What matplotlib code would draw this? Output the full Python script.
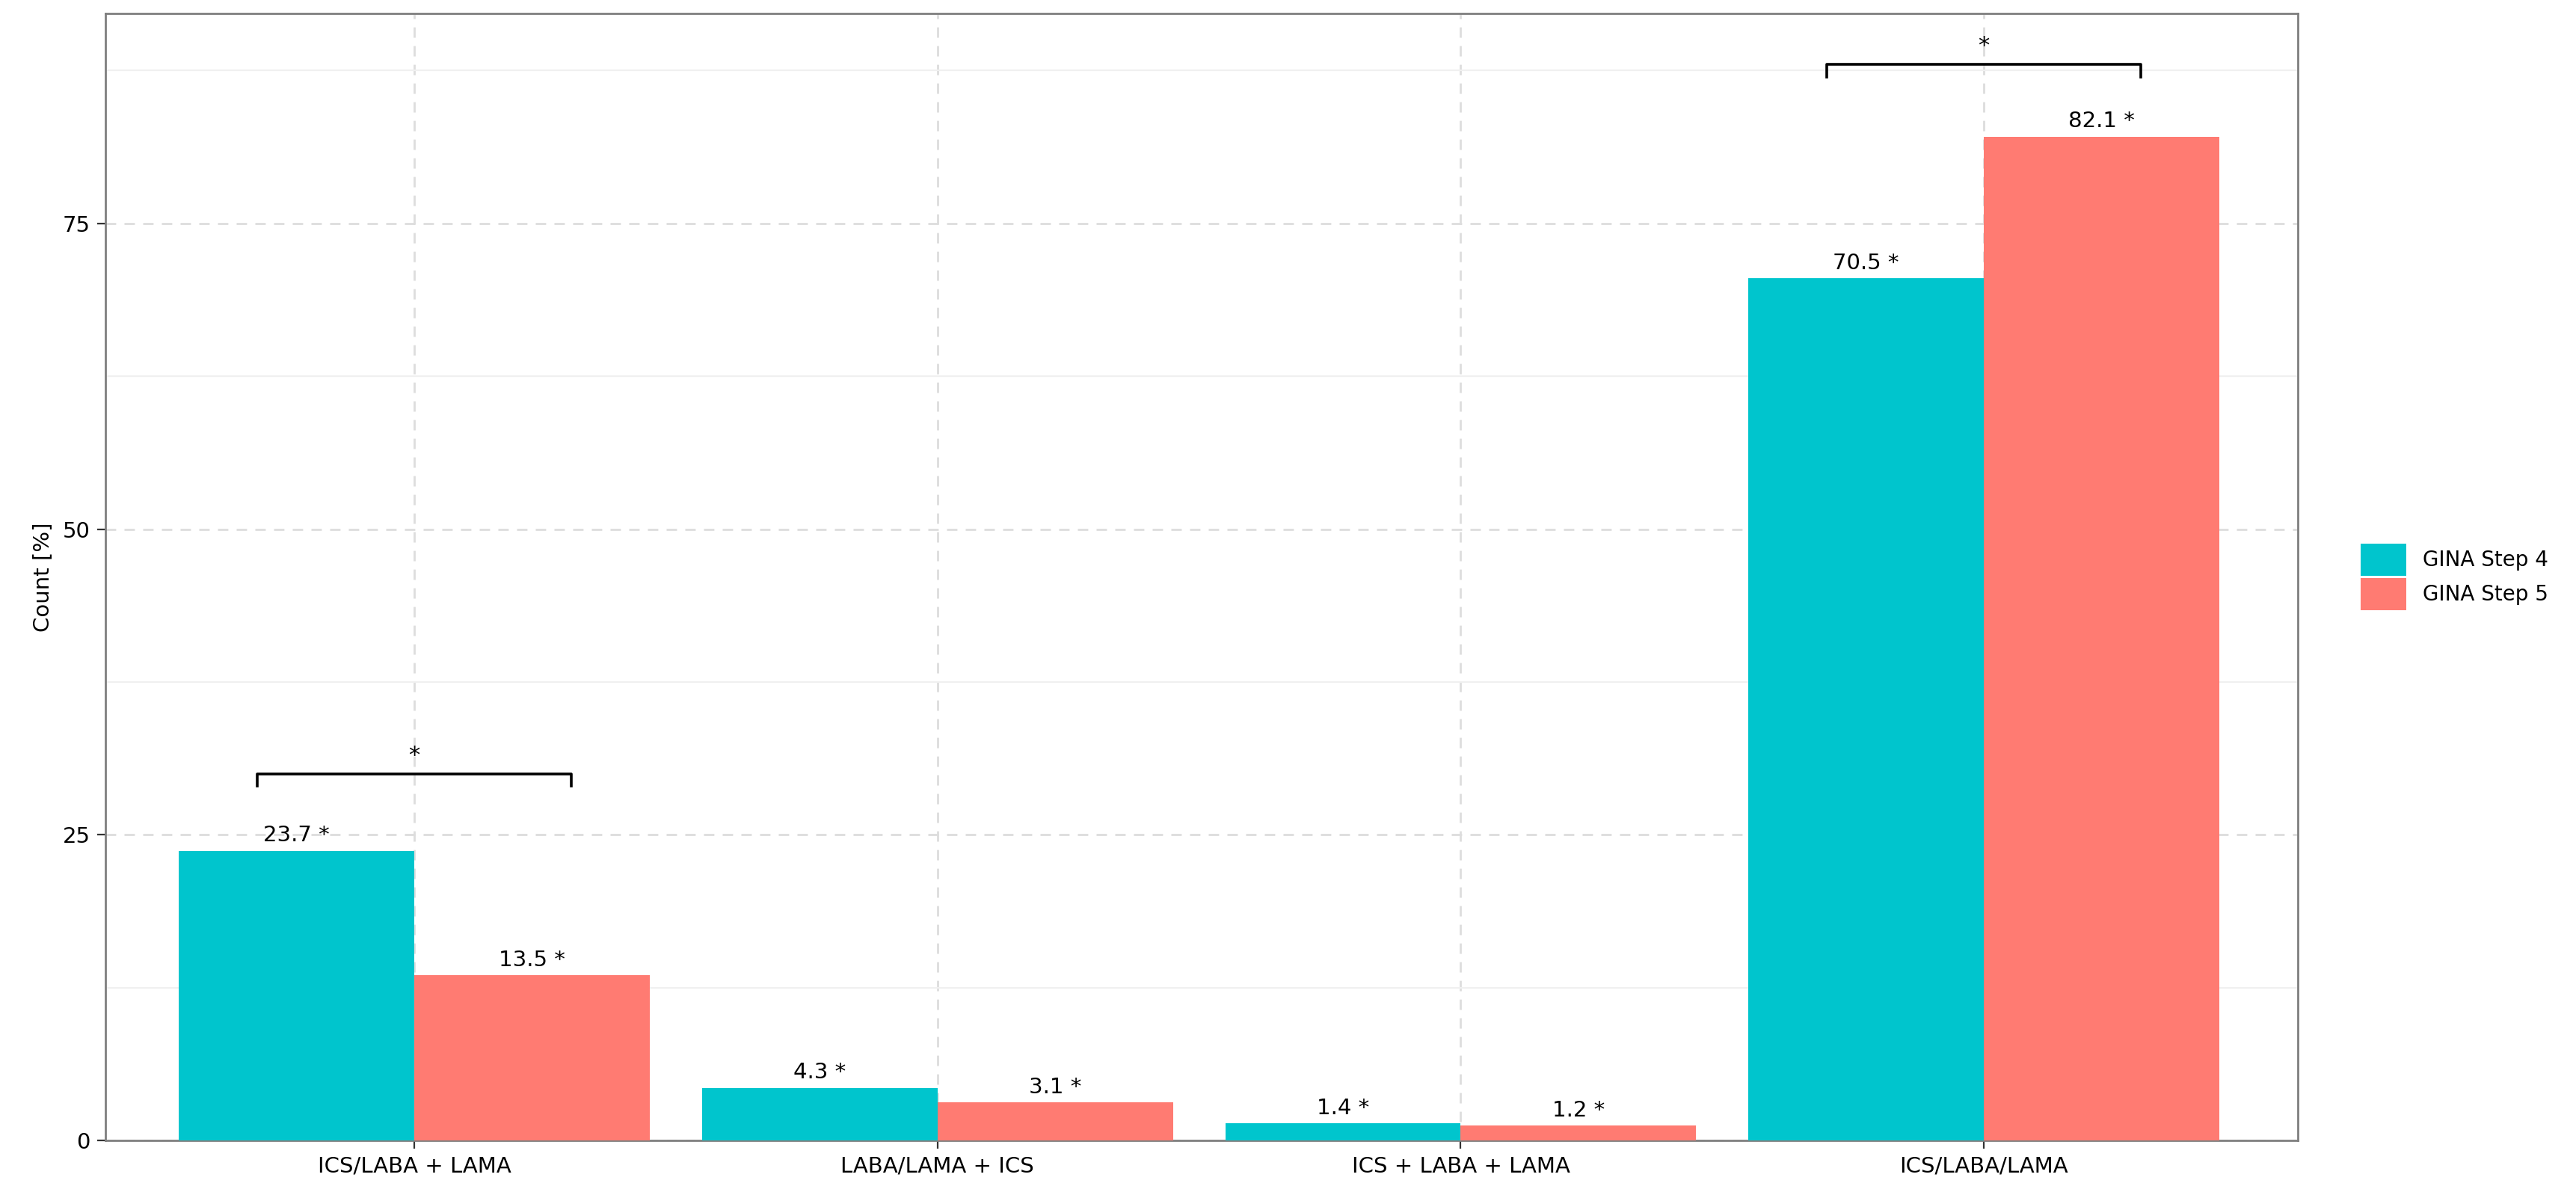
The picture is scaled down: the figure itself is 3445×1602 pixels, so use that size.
import matplotlib.pyplot as plt
import numpy as np

categories = ["ICS/LABA + LAMA", "LABA/LAMA + ICS", "ICS + LABA + LAMA", "ICS/LABA/LAMA"]
step4 = [23.7, 4.3, 1.4, 70.5]
step5 = [13.5, 3.1, 1.2, 82.1]
series_names = ["GINA Step 4", "GINA Step 5"]
brackets = [(0, 30.0), (3, 88.0)]  # category index, bracket height

c4 = "#00C5CD"
c5 = "#FF7B72"

fig = plt.figure(figsize=(17.225, 8.01), dpi=200)
ax = fig.add_axes([0.041, 0.048, 0.851, 0.941])

x = np.arange(len(categories))
w = 0.45
b1 = ax.bar(x - w / 2, step4, w, color=c4, label=series_names[0], zorder=3)
b2 = ax.bar(x + w / 2, step5, w, color=c5, label=series_names[1], zorder=3)

for bars, vals in ((b1, step4), (b2, step5)):
    for r, v in zip(bars, vals):
        ax.text(r.get_x() + r.get_width() / 2, v + 0.4, f"{v} *", ha="center", va="bottom", fontsize=10.5, zorder=4)

for i, h in brackets:
    ax.plot([i - 0.3, i - 0.3, i + 0.3, i + 0.3], [h - 1.0, h, h, h - 1.0], color="black", lw=1.3, zorder=4)
    ax.text(i, h + 0.6, "*", ha="center", va="bottom", fontsize=11)

ax.set_xlim(-0.59, 3.6)
ax.set_ylim(0, 92.2)
ax.set_xticks(x)
ax.set_xticklabels(categories, fontsize=10.5)
ax.set_yticks([0, 25, 50, 75])
ax.set_yticks([12.5, 37.5, 62.5, 87.5], minor=True)
ax.tick_params(axis="y", labelsize=10.5)
ax.tick_params(which="both", length=4, color="#333333")
ax.tick_params(which="minor", length=0)
ax.grid(True, which="major", linestyle=(0, (5, 4)), color="#dddddd", lw=1.0, zorder=0)
ax.grid(True, which="minor", axis="y", linestyle="-", color="#f0f0f0", lw=0.8, zorder=0)
for s in ax.spines.values():
    s.set_color("#7f7f7f")
    s.set_linewidth(1.0)
ax.set_ylabel("Count [%]", fontsize=10.5)

ax.legend(loc="center left", bbox_to_anchor=(1.02, 0.5), frameon=False, fontsize=10,
          handlelength=2.2, handleheight=2.0, labelspacing=0.1)

fig.savefig("out.png")
